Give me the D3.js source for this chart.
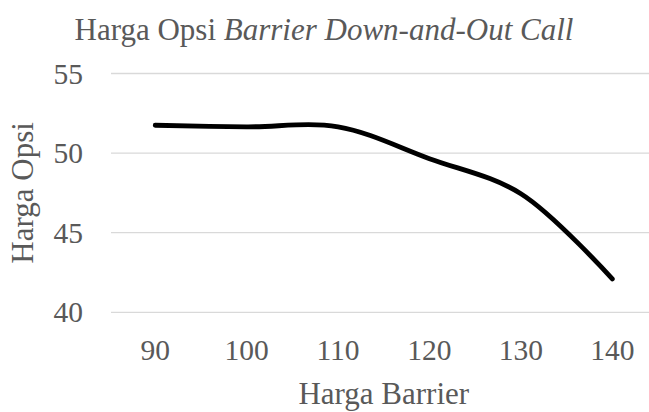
<!DOCTYPE html>
<html lang="en">
<head>
    <meta charset="UTF-8">
    <title>Harga Opsi Barrier Down-and-Out Call</title>
    <script src="https://d3js.org/d3.v7.min.js"></script>
    <style>
        body { margin: 0; background: #fff; }
    </style>
</head>
<body>
    <div id="chart"></div>
    <script>

// data
var barriers = [90, 100, 110, 120, 130, 140];
var optionPrices = [51.75, 51.65, 51.65, 49.65, 47.45, 42.1];
var yTicks = [40, 45, 50, 55];

var width = 649, height = 412;
var margin = {top: 73.5, left: 109.5, bottom: 99.7, right: -9};
var fontFamily = "'Liberation Serif', 'Times New Roman', Times, serif";
var textColor = '#595959';

var svg = d3.select('#chart').append('svg')
    .attr('width', width)
    .attr('height', height)
    .attr('font-family', fontFamily)
    .attr('fill', textColor);

var x = d3.scalePoint()
    .domain(barriers)
    .range([margin.left, width - margin.right])
    .padding(0.5);

var y = d3.scaleLinear()
    .domain([40, 55])
    .range([height - margin.bottom, margin.top]);

// gridlines
svg.append('g')
    .selectAll('line')
    .data(yTicks)
    .enter()
    .append('line')
    .attr('x1', margin.left + 1.5)
    .attr('x2', width)
    .attr('y1', function (d) { return y(d); })
    .attr('y2', function (d) { return y(d); })
    .style('stroke', '#d9d9d9')
    .style('stroke-width', 1.3);

// y tick labels
svg.append('g')
    .selectAll('text')
    .data(yTicks)
    .enter()
    .append('text')
    .attr('x', 83)
    .attr('y', function (d) { return y(d); })
    .attr('dy', '0.34em')
    .attr('text-anchor', 'end')
    .attr('font-size', 29.5)
    .text(function (d) { return d; });

// x tick labels
svg.append('g')
    .selectAll('text')
    .data(barriers)
    .enter()
    .append('text')
    .attr('x', function (d) { return x(d); })
    .attr('y', 360)
    .attr('text-anchor', 'middle')
    .attr('font-size', 29.5)
    .text(function (d) { return d; });

// the line
var line = d3.line()
    .x(function (d, i) { return x(barriers[i]); })
    .y(function (d) { return y(d); })
    .curve(d3.curveCatmullRom.alpha(0.5));

svg.append('path')
    .datum(optionPrices)
    .attr('d', line)
    .attr('fill', 'none')
    .attr('stroke', '#000')
    .attr('stroke-width', 4.8)
    .attr('stroke-linecap', 'round')
    .attr('stroke-linejoin', 'round');

// titles
var title = svg.append('text')
    .attr('x', 324)
    .attr('y', 40)
    .attr('text-anchor', 'middle')
    .attr('font-size', 31);
title.append('tspan').text('Harga Opsi ');
title.append('tspan').attr('font-style', 'italic').text('Barrier Down-and-Out Call');

svg.append('text')
    .attr('x', (margin.left + width - margin.right) / 2)
    .attr('y', 404)
    .attr('text-anchor', 'middle')
    .attr('font-size', 31)
    .text('Harga Barrier');

svg.append('text')
    .attr('transform', 'translate(33,' + ((y(40) + y(55)) / 2) + ') rotate(-90)')
    .attr('text-anchor', 'middle')
    .attr('font-size', 31)
    .text('Harga Opsi');

    </script>
</body>
</html>
